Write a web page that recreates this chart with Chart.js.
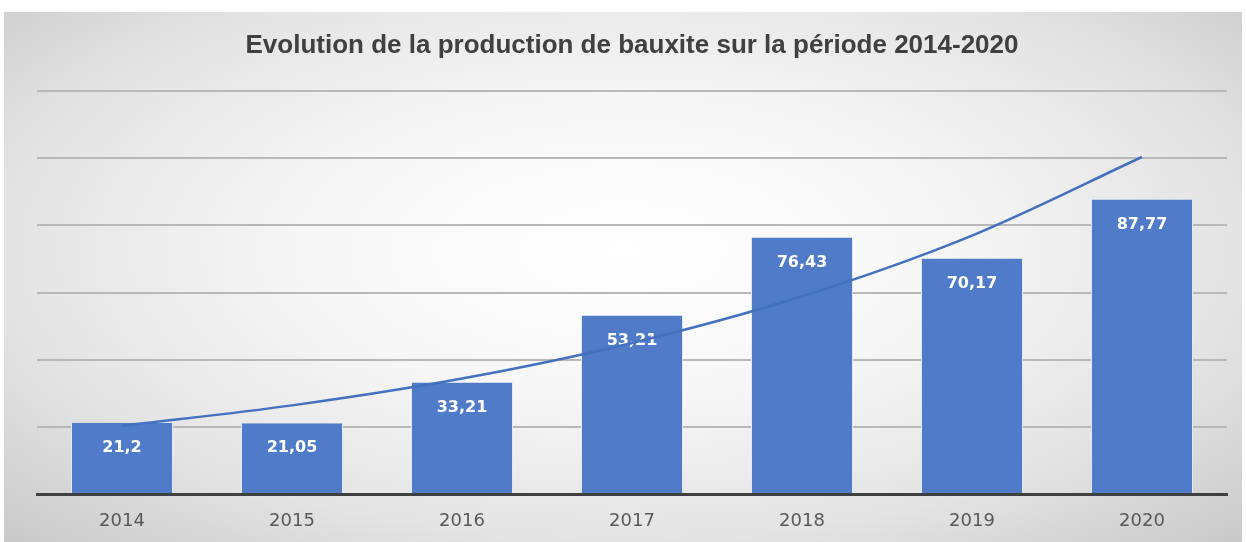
<!DOCTYPE html>
<html>
<head>
<meta charset="utf-8">
<script src="https://cdn.jsdelivr.net/npm/chart.js@4/dist/chart.umd.min.js"></script>
<style>
  html, body { margin: 0; padding: 0; background: #ffffff; }
  #wrap { position: relative; width: 1246px; height: 542px; }
  #panel { position: absolute; left: 4px; top: 12px; width: 1238px; height: 530px;
    background: radial-gradient(ellipse at 50% 45%, #ffffff 0%, #f7f7f7 35%, #e4e4e4 70%, #c9c9c9 100%); }
  #c { position: absolute; left: 0; top: 0; }
</style>
</head>
<body>
<div id="wrap">
  <div id="panel"></div>
  <canvas id="c" width="1246" height="542"></canvas>
</div>
<script>
const categories = ['2014', '2015', '2016', '2017', '2018', '2019', '2020'];
const production = [21.2, 21.05, 33.21, 53.21, 76.43, 70.17, 87.77];
const trendValues = [20.3, 26.4, 34.4, 45.0, 58.9, 77.0, 100.4];
const yTicks = [0, 20, 40, 60, 80, 100, 120];
const chartTitle = 'Evolution de la production de bauxite sur la période 2014-2020';

const labelPlugin = {
  id: 'barLabels',
  afterDatasetDraw(chart, args) {
    if (args.index !== 0) return;
    const ctx = chart.ctx;
    const meta = chart.getDatasetMeta(0);
    ctx.save();
    ctx.fillStyle = '#ffffff';
    ctx.font = 'bold 16px "DejaVu Sans"';
    ctx.textAlign = 'center';
    ctx.textBaseline = 'middle';
    meta.data.forEach((bar, i) => {
      const txt = String(production[i]).replace('.', ',');
      ctx.fillText(txt, bar.x, bar.y + 25);
    });
    ctx.restore();
  }
};

new Chart(document.getElementById('c'), {
  data: {
    labels: categories,
    datasets: [
      {
        type: 'bar',
        data: production,
        backgroundColor: '#4f7bc8',
        borderColor: '#dfe8f6',
        borderWidth: { left: 1, right: 1, top: 0, bottom: 0 },
        barPercentage: 0.6,
        categoryPercentage: 1.0,
        order: 1
      },
      {
        type: 'line',
        data: trendValues,
        borderColor: '#4470c0',
        borderWidth: 2.5,
        pointRadius: 0,
        fill: false,
        cubicInterpolationMode: 'monotone',
        order: 0
      }
    ]
  },
  options: {
    responsive: false,
    animation: false,
    layout: { padding: { left: 37, right: 19, top: 0, bottom: 0 } },
    plugins: {
      legend: { display: false },
      tooltip: { enabled: false },
      title: {
        display: true,
        text: chartTitle,
        color: '#404040',
        font: { family: '"Liberation Sans Narrow", "Liberation Sans"', size: 26, weight: 'bold' },
        padding: { top: 30, bottom: 30 }
      }
    },
    scales: {
      x: {
        grid: { display: false, drawTicks: false },
        border: { display: true, color: '#404040', width: 3 },
        ticks: { color: '#595959', font: { family: '"DejaVu Sans"', size: 18 }, padding: 17 },
        afterFit(scale) { scale.height = 48; }
      },
      y: {
        min: yTicks[0],
        max: yTicks[yTicks.length - 1],
        afterBuildTicks(scale) { scale.ticks = yTicks.map(v => ({ value: v })); },
        ticks: { display: false },
        border: { display: false },
        grid: {
          drawTicks: false,
          color: ctx => ctx.tick && ctx.tick.value === 0 ? 'rgba(0,0,0,0)' : '#b8b8b8',
          lineWidth: 2
        }
      }
    }
  },
  plugins: [labelPlugin]
});
</script>
</body>
</html>
